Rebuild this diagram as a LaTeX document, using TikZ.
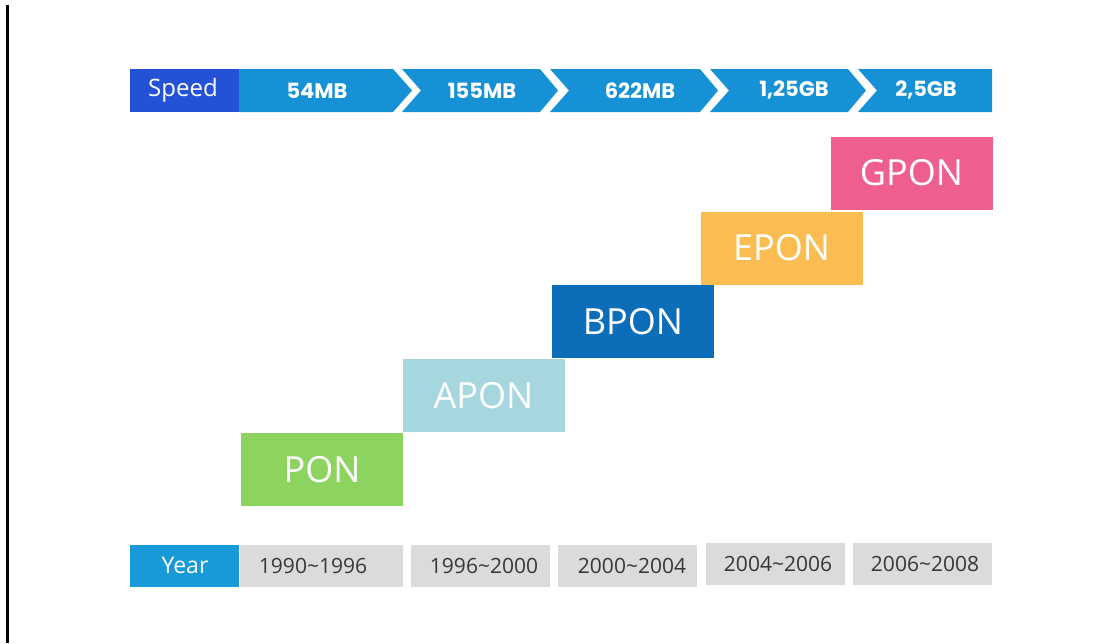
\documentclass[tikz,border=0pt]{standalone}
\usepackage{fontspec}
\setmainfont{Open Sans}
\newfontfamily\ratefont{Poppins}
\usepackage{tikz}
\usetikzlibrary{positioning}

\definecolor{speedblue}{RGB}{35,82,215}
\definecolor{rateblue}{RGB}{22,145,214}
\definecolor{yearblue}{RGB}{25,154,216}
\definecolor{yeargray}{RGB}{219,219,219}
\definecolor{yeartext}{RGB}{55,55,55}
\definecolor{pongreen}{RGB}{141,211,95}
\definecolor{aponteal}{RGB}{166,215,222}
\definecolor{bponblue}{RGB}{12,109,185}
\definecolor{eponorange}{RGB}{251,189,82}
\definecolor{gponpink}{RGB}{238,94,144}

\begin{document}
\begin{tikzpicture}[x=1pt,y=-1pt]
        % Define styles
        \tikzset{
            stepbox/.style={minimum width=162pt, minimum height=73pt, inner sep=0pt, text=white, font=\fontsize{36}{40}\selectfont},
            rate/.style={text=white, font=\ratefont\bfseries\fontsize{21}{24}\selectfont},
            yearbox/.style={fill=yeargray, inner sep=0pt, minimum height=42pt},
            yearlabel/.style={text=yeartext, font=\fontsize{21}{24}\selectfont}
        }
        \useasboundingbox (0,0) rectangle (1118,643);
        % Left edge rule
        \draw[line width=2.5pt] (7.5,5) -- (7.5,643);
        % Speed bar
        \fill[speedblue] (130,69) rectangle (239,112);
        \node[text=white, font=\fontsize{24}{28}\selectfont] (speed) at (183,90.5) {Speed};
        \fill[rateblue] (239,69) -- (393,69) -- (412,90.5) -- (393,112) -- (239,112) -- cycle;
        \fill[rateblue] (402,69) -- (540,69) -- (558,90.5) -- (540,112) -- (402,112) -- (421,90.5) -- cycle;
        \fill[rateblue] (550,69) -- (700,69) -- (718,90.5) -- (700,112) -- (550,112) -- (569,90.5) -- cycle;
        \fill[rateblue] (710,69) -- (848,69) -- (866,90.5) -- (848,112) -- (710,112) -- (729,90.5) -- cycle;
        \fill[rateblue] (858,69) -- (992,69) -- (992,112) -- (858,112) -- (877,90.5) -- cycle;
        \node[rate] (r1) at (317,90.5) {54MB};
        \node[rate] (r2) at (482,90.5) {155MB};
        \node[rate] (r3) at (640,90.5) {622MB};
        \node[rate] (r4) at (794,90.5) {1,25GB};
        \node[rate] (r5) at (926,90.5) {2,5GB};
        % Staircase of standards
        \node[stepbox, fill=pongreen] (pon) at (322,469.5) {PON};
        \node[stepbox, fill=aponteal] (apon) at (483.5,395.5) {APON};
        \node[stepbox, fill=bponblue] (bpon) at (633,321.5) {BPON};
        \node[stepbox, fill=eponorange] (epon) at (781.5,248) {EPON};
        \node[stepbox, fill=gponpink] (gpon) at (911.5,173) {GPON};
        % Year row
        \node[fill=yearblue, inner sep=0pt, minimum width=109pt, minimum height=42pt] (year) at (184.5,566) {};
        \node[text=white, font=\fontsize{23}{26}\selectfont] (yeartxt) at (185,565) {Year};
        \node[yearbox, minimum width=163pt] (y1) at (321.5,566) {};
        \node[yearbox, minimum width=139pt] (y2) at (480.5,566) {};
        \node[yearbox, minimum width=139pt] (y3) at (627.5,565.5) {};
        \node[yearbox, minimum width=139pt] (y4) at (775.5,563.5) {};
        \node[yearbox, minimum width=139pt] (y5) at (922.5,563.5) {};
        \node[yearlabel] (t1) at (313,566) {1990\textasciitilde1996};
        \node[yearlabel] (t2) at (484,566) {1996\textasciitilde2000};
        \node[yearlabel] (t3) at (632,566) {2000\textasciitilde2004};
        \node[yearlabel] (t4) at (778,564) {2004\textasciitilde2006};
        \node[yearlabel] (t5) at (925,564) {2006\textasciitilde2008};
    \end{tikzpicture}
\end{document}
